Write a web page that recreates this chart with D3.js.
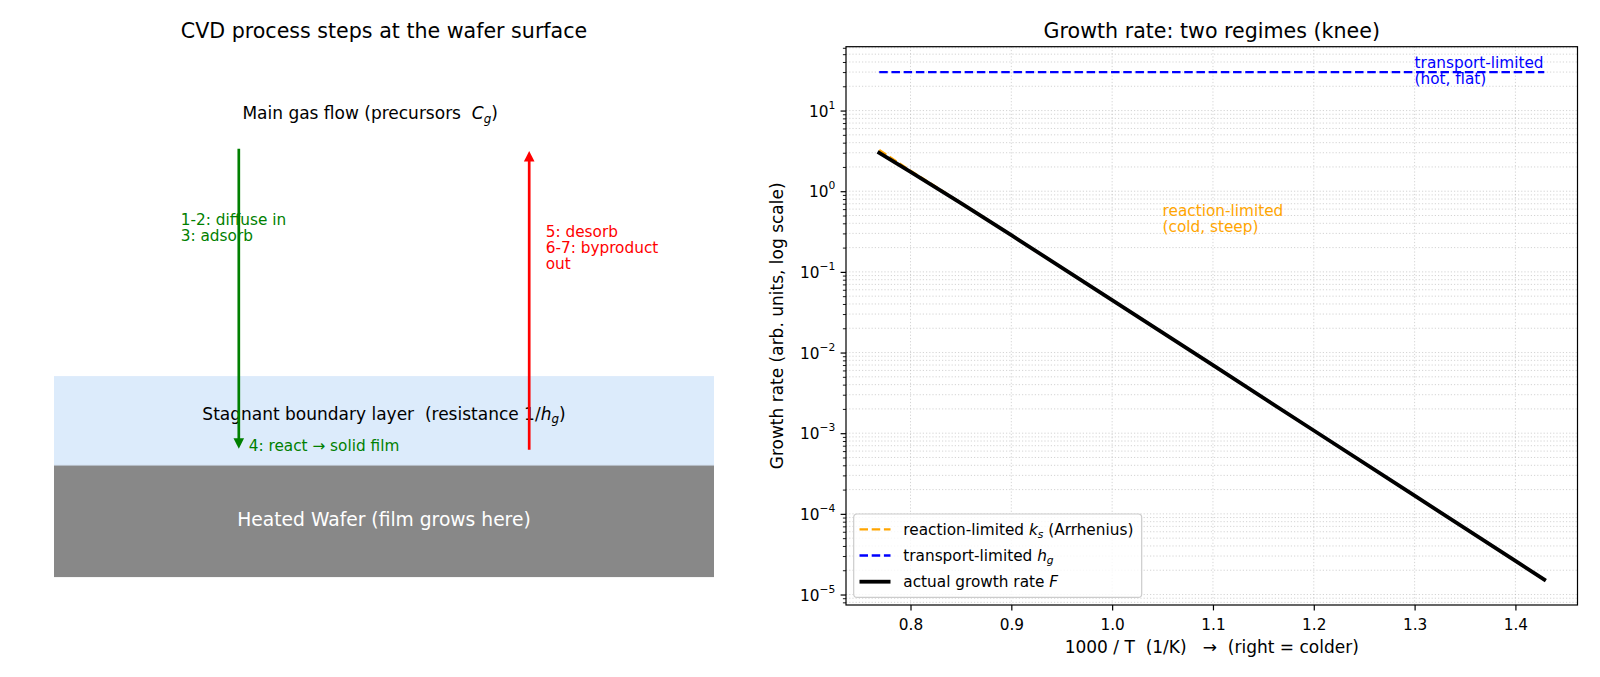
<!DOCTYPE html>
<html><head><meta charset="utf-8">
<script src="https://cdn.jsdelivr.net/npm/d3@7"></script>
<style>
body{margin:0;background:#fff}
svg{display:block}
text{font-family:"DejaVu Sans",sans-serif;white-space:pre}
</style>
</head><body>
<svg id="c" width="1600" height="677"></svg>
<script>
// ---------------- data ----------------
const invT        = [0.769, 0.8, 0.85, 0.9, 1.0, 1.1, 1.2, 1.3, 1.4, 1.4286];       // 1000/T (1/K)
const reactionKs  = [3.25, 1.8, 0.72, 0.287, 0.0448, 6.97e-3, 1.08e-3, 1.68e-4, 2.61e-5, 1.53e-5];
const transportHg = [30, 30, 30, 30, 30, 30, 30, 30, 30, 30];
const growthF     = [2.98, 1.74, 0.71, 0.285, 0.0447, 6.97e-3, 1.08e-3, 1.68e-4, 2.61e-5, 1.53e-5];
const xTicks      = [0.8, 0.9, 1.0, 1.1, 1.2, 1.3, 1.4];
const yTickExps   = [-5, -4, -3, -2, -1, 0, 1];

const seriesNames = ["reaction-limited", "transport-limited", "actual growth rate"];
const seriesColors = ["#ffa500", "#0000ff", "#000000"];

const svg = d3.select("#c");

// rich text helper: segments [{t, i (italic), sub}]
function rich(sel, segs, fs) {
  let lowered = false;
  segs.forEach(s => {
    const ts = sel.append("tspan").text(s.t);
    if (s.i) ts.attr("font-style", "italic");
    if (s.sub) {
      ts.attr("font-size", fs * 0.7);
      if (!lowered) { ts.attr("dy", fs * 0.22); lowered = true; }
    } else if (lowered) {
      ts.attr("dy", -fs * 0.22); lowered = false;
    }
  });
  return sel;
}

// ================= LEFT PANEL =================
const L = {l: 54, r: 714, t: 46.7, b: 605};
const lx = d3.scaleLinear().domain([0, 10]).range([L.l, L.r]);
const ly = d3.scaleLinear().domain([0, 10]).range([L.b, L.t]);

svg.append("text").attr("x", lx(5)).attr("y", 37.5).attr("text-anchor", "middle")
  .attr("font-size", 20.6).attr("fill", "#000").text("CVD process steps at the wafer surface");

// boundary layer and wafer
svg.append("rect").attr("x", lx(0)).attr("width", lx(10) - lx(0))
  .attr("y", ly(4.1)).attr("height", ly(2.5) - ly(4.1)).attr("fill", "#dcebfb");
svg.append("rect").attr("x", lx(0)).attr("width", lx(10) - lx(0))
  .attr("y", ly(2.5)).attr("height", ly(0.5) - ly(2.5)).attr("fill", "#888888");
svg.append("line").attr("x1", lx(0)).attr("x2", lx(10)).attr("y1", ly(2.5)).attr("y2", ly(2.5))
  .attr("stroke", "#b4bcc6").attr("stroke-width", 1);

rich(svg.append("text").attr("x", lx(4.79)).attr("y", ly(8.70)).attr("text-anchor", "middle")
  .attr("font-size", 17).attr("fill", "#000"),
  [{t: "Main gas flow (precursors  "}, {t: "C", i: true}, {t: "g", i: true, sub: true}, {t: ")"}], 17);

rich(svg.append("text").attr("x", lx(5)).attr("y", ly(3.32)).attr("text-anchor", "middle")
  .attr("font-size", 17).attr("fill", "#000"),
  [{t: "Stagnant boundary layer  (resistance 1/"}, {t: "h", i: true}, {t: "g", i: true, sub: true}, {t: ")"}], 17);

svg.append("text").attr("x", lx(5)).attr("y", ly(1.41)).attr("text-anchor", "middle")
  .attr("font-size", 18.7).attr("fill", "#fff").text("Heated Wafer (film grows here)");

function multiline(x0, yBase, lines, color, fs, gap) {
  lines.forEach((ln, k) => {
    svg.append("text").attr("x", x0).attr("y", yBase + k * gap)
      .attr("font-size", fs).attr("fill", color).text(ln);
  });
}
multiline(lx(1.92), ly(6.80), ["1-2: diffuse in", "3: adsorb"], "#008000", 15.3, 16);
multiline(lx(7.45), ly(6.60), ["5: desorb", "6-7: byproduct", "out"], "#ff0000", 15.3, 16.2);
svg.append("text").attr("x", lx(2.95)).attr("y", ly(2.76)).attr("font-size", 15.3)
  .attr("fill", "#008000").text("4: react \u2192 solid film");

function arrow(xv, y0, y1, color) {
  const px = lx(xv), p0 = ly(y0), p1 = ly(y1);
  const dir = Math.sign(p1 - p0), hl = 10.5, hw = 5.3;
  svg.append("line").attr("x1", px).attr("x2", px).attr("y1", p0).attr("y2", p1 - dir * hl * 0.6)
    .attr("stroke", color).attr("stroke-width", 2.7);
  svg.append("path")
    .attr("d", `M${px},${p1} L${px - hw},${p1 - dir * hl} L${px + hw},${p1 - dir * hl} Z`)
    .attr("fill", color);
}
arrow(2.8, 8.17, 2.8, "#008000");
arrow(7.2, 2.78, 8.13, "#ff0000");

// ================= RIGHT PANEL =================
const P = {l: 846, r: 1577.5, t: 46.7, b: 605};
const xe = d3.extent(invT), xp = (xe[1] - xe[0]) * 0.05;
const x = d3.scaleLinear().domain([xe[0] - xp, xe[1] + xp]).range([P.l, P.r]);
const allY = reactionKs.concat(transportHg, growthF);
const lmin = Math.log10(d3.min(allY)), lmax = Math.log10(d3.max(allY)), lp = (lmax - lmin) * 0.05;
const y = d3.scaleLog().domain([10 ** (lmin - lp), 10 ** (lmax + lp)]).range([P.b, P.t]);

svg.append("text").attr("x", (P.l + P.r) / 2).attr("y", 37.5).attr("text-anchor", "middle")
  .attr("font-size", 20.6).attr("fill", "#000").text("Growth rate: two regimes (knee)");

// minor values
const [dLo, dHi] = y.domain();
const minors = [];
for (let e = -7; e <= 3; e++) for (let m = 2; m <= 9; m++) {
  const v = m * 10 ** e; if (v >= dLo && v <= dHi) minors.push(v);
}
const majors = yTickExps.map(e => 10 ** e);

const grid = svg.append("g").attr("stroke", "#b0b0b0").attr("stroke-opacity", 0.55)
  .attr("stroke-width", 1).attr("stroke-dasharray", "1.2,2");
minors.concat(majors).forEach(v => {
  grid.append("line").attr("x1", P.l).attr("x2", P.r).attr("y1", y(v)).attr("y2", y(v));
});
xTicks.forEach(v => {
  grid.append("line").attr("x1", x(v)).attr("x2", x(v)).attr("y1", P.t).attr("y2", P.b);
});

// series
const lineOf = vals => d3.line().x((d, i) => x(invT[i])).y(d => y(d))(vals);
svg.append("path").attr("d", lineOf(reactionKs)).attr("fill", "none").attr("stroke", seriesColors[0])
  .attr("stroke-width", 2.3).attr("stroke-dasharray", "8.5,3.7");
svg.append("path").attr("d", lineOf(transportHg)).attr("fill", "none").attr("stroke", seriesColors[1])
  .attr("stroke-width", 2.3).attr("stroke-dasharray", "8.5,3.7");
svg.append("path").attr("d", lineOf(growthF)).attr("fill", "none").attr("stroke", seriesColors[2])
  .attr("stroke-width", 3.8).attr("stroke-linecap", "square");

// annotations
function annot(xv, yv, lines, color) {
  const base = y(yv) - 1;
  lines.forEach((ln, k) => {
    svg.append("text").attr("x", x(xv)).attr("y", base - (lines.length - 1 - k) * 16)
      .attr("font-size", 15.3).attr("fill", color).text(ln);
  });
}
annot(1.3, 21, ["transport-limited", "(hot, flat)"], "#0000ff");
annot(1.05, 0.3, ["reaction-limited", "(cold, steep)"], "#ffa500");

// axes
const xAxis = svg.append("g").attr("transform", `translate(0,${P.b})`)
  .call(d3.axisBottom(x).tickValues(xTicks).tickFormat(d3.format(".1f")).tickSize(5.4).tickSizeOuter(0));
xAxis.select(".domain").remove();
xAxis.selectAll(".tick line").attr("stroke", "#000").attr("stroke-width", 1.2);
xAxis.selectAll(".tick text").attr("y", 25).attr("dy", null).attr("font-size", 15.3)
  .attr("font-family", "DejaVu Sans").attr("fill", "#000");

const yAxis = svg.append("g").attr("transform", `translate(${P.l},0)`)
  .call(d3.axisLeft(y).tickValues(majors).tickFormat(() => "").tickSize(5.4).tickSizeOuter(0));
yAxis.select(".domain").remove();
yAxis.selectAll(".tick line").attr("stroke", "#000").attr("stroke-width", 1.2);
yAxis.selectAll(".tick text").each(function (d, i) {
  const t = d3.select(this).attr("x", -10.8).attr("y", 5.6).attr("dy", null)
    .attr("font-size", 15.3).attr("font-family", "DejaVu Sans").attr("fill", "#000")
    .attr("text-anchor", "end");
  const e = Math.round(Math.log10(d));
  t.append("tspan").text("10");
  t.append("tspan").attr("font-size", 10.7).attr("dy", -8)
    .text(String(e).replace("-", "\u2212"));
});
const yMinor = svg.append("g").attr("transform", `translate(${P.l},0)`)
  .call(d3.axisLeft(y).tickValues(minors).tickFormat(() => "").tickSize(3.1).tickSizeOuter(0));
yMinor.select(".domain").remove();
yMinor.selectAll(".tick line").attr("stroke", "#000").attr("stroke-width", 0.9);

svg.append("rect").attr("x", P.l).attr("y", P.t).attr("width", P.r - P.l).attr("height", P.b - P.t)
  .attr("fill", "none").attr("stroke", "#000").attr("stroke-width", 1.2);

svg.append("text").attr("x", (P.l + P.r) / 2).attr("y", 653).attr("text-anchor", "middle")
  .attr("font-size", 17).attr("fill", "#000").text("1000 / T  (1/K)   \u2192  (right = colder)");
svg.append("text").attr("transform", `translate(783.3,${(P.t + P.b) / 2}) rotate(-90)`)
  .attr("text-anchor", "middle").attr("font-size", 17).attr("fill", "#000")
  .text("Growth rate (arb. units, log scale)");

// legend
const lg = svg.append("g");
lg.append("rect").attr("x", 853.7).attr("y", 514).attr("width", 288).attr("height", 83.4)
  .attr("rx", 3.5).attr("fill", "#fff").attr("fill-opacity", 0.8).attr("stroke", "#cccccc").attr("stroke-width", 1.2);
const legRows = [
  [{t: seriesNames[0] + " "}, {t: "k", i: true}, {t: "s", i: true, sub: true}, {t: " (Arrhenius)"}],
  [{t: seriesNames[1] + " "}, {t: "h", i: true}, {t: "g", i: true, sub: true}],
  [{t: seriesNames[2] + " "}, {t: "F", i: true}]
];
const legStyles = [
  {w: 2.3, dash: "8.5,3.7"}, {w: 2.3, dash: "8.5,3.7"}, {w: 3.8, dash: null}
];
legRows.forEach((segs, k) => {
  const cy = 529.3 + k * 26.2;
  const ln = lg.append("line").attr("x1", 859.5).attr("x2", 890.5).attr("y1", cy).attr("y2", cy)
    .attr("stroke", seriesColors[k]).attr("stroke-width", legStyles[k].w);
  if (legStyles[k].dash) ln.attr("stroke-dasharray", legStyles[k].dash);
  rich(lg.append("text").attr("x", 903.3).attr("y", cy + 5.4).attr("font-size", 15.3).attr("fill", "#000"),
    segs, 15.3);
});
</script>
</body></html>
